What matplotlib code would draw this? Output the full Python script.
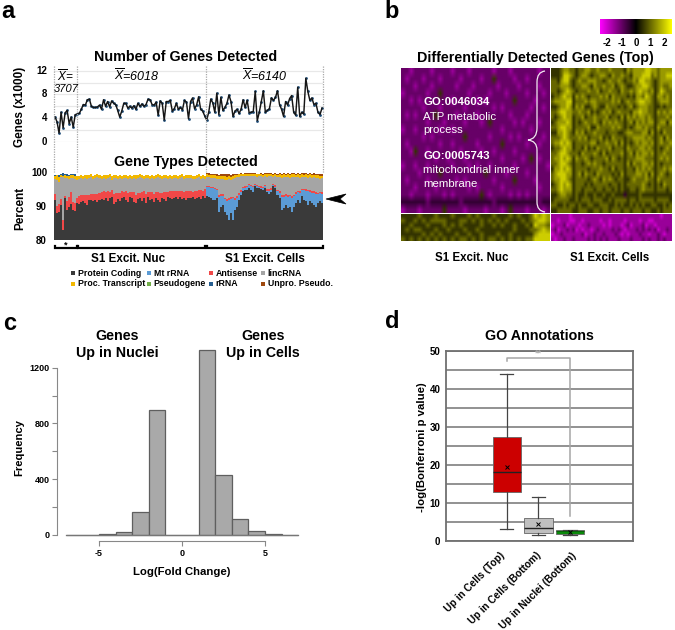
import numpy as np
import matplotlib
matplotlib.use("Agg")
import matplotlib.pyplot as plt
from matplotlib.colors import LinearSegmentedColormap
from matplotlib.patches import PathPatch, Polygon, Rectangle
from matplotlib.path import Path

plt.rcParams['font.family'] = ['Liberation Sans', 'DejaVu Sans']
plt.rcParams['mathtext.fontset'] = 'custom'
plt.rcParams['mathtext.it'] = 'Liberation Sans:italic'
plt.rcParams['mathtext.rm'] = 'Liberation Sans'

# ---------- panel a: genes detected (x1000) ----------
genes_first = [4.2, 3.4, 1.5, 5.0, 2.4, 4.9, 5.3, 3.1, 4.2, 2.5, 4.6]
genes_nuc = [4.7,4.8,5.5,6.3,6.2,7.1,7.2,6.0,5.8,5.8,
             5.9,6.2,5.5,7.1,6.0,6.8,5.9,6.9,6.5,6.3,
             5.3,4.2,5.2,6.5,6.5,5.7,6.0,5.7,6.1,5.5,
             6.5,6.0,6.4,6.0,6.3,7.2,7.1,6.3,6.2,6.7,
             4.5,6.9,6.5,3.7,6.8,6.8,7.0,5.2,5.6,6.5,
             5.5,5.8,5.4,7.0,6.7,3.9,6.8,7.4,5.6,6.2,
             7.6,5.5,5.2,4.4]
genes_cells = [3.7,5.0,7.2,6.6,5.0,8.2,4.6,7.5,5.3,5.8,
               6.5,7.9,6.8,4.3,5.2,5.5,4.8,5.5,7.1,5.8,
               7.0,4.9,5.0,5.1,8.5,3.6,5.0,6.8,8.6,5.0,
               5.3,5.6,7.4,7.0,7.5,8.6,6.3,5.5,4.3,6.8,
               6.2,7.3,7.8,5.0,4.5,9.2,4.3,5.0,4.7,10.7,
               8.5,7.0,7.4,6.3,6.5,5.0,4.6,5.7]

# ---------- panel a: gene types, percent ----------
protein_first = [91.8,88.0,88.5,90.3,83.0,92.6,89.0,89.8,90.6,89.0,88.8]
protein_nuc = [91.0,90.6,91.2,91.5,91.0,90.5,91.8,92.0,91.5,91.8,
               91.2,92.0,92.3,91.9,92.4,91.6,92.6,92.9,90.8,91.4,
               92.2,91.6,92.4,92.8,91.9,91.2,92.7,92.4,91.4,90.9,
               92.1,92.5,91.5,92.6,91.1,92.7,91.9,92.3,91.2,92.6,
               92.0,91.4,92.5,92.3,91.7,92.8,92.5,92.1,92.6,92.9,
               92.3,92.7,92.1,92.5,91.9,92.6,92.4,92.8,92.2,92.5,
               92.8,92.3,93.0,92.6]
protein_cells = [93.0,92.8,92.5,92.0,91.8,92.5,88.5,90.0,90.5,88.5,
                 87.5,86.0,88.0,86.0,89.0,90.0,92.0,93.5,94.5,95.0,
                 94.8,95.5,95.0,94.2,96.0,95.5,95.5,95.2,95.0,95.5,
                 94.2,93.8,94.2,96.0,95.5,93.5,92.5,89.0,89.5,90.5,
                 89.5,90.0,88.5,90.0,91.0,92.0,91.0,93.0,92.0,91.5,
                 90.5,91.5,91.0,90.5,90.0,91.0,91.5,91.0]
mt_cells = [2.8,2.9,3.0,3.4,3.3,2.4,4.3,3.2,2.6,3.6,
            4.2,6.0,4.2,6.4,2.9,2.4,1.5,0.8,0.9,0.6,
            0.9,0.8,1.0,1.6,0.4,0.6,0.4,0.4,0.5,0.5,
            0.5,0.9,0.8,0.5,0.4,1.0,1.5,3.8,3.4,2.6,
            3.2,3.0,4.0,3.0,2.8,2.2,3.0,1.8,2.8,3.2,
            4.0,2.8,3.0,3.4,3.6,2.6,2.4,2.6]
antisense_first = [1.8,2.2,2.3,1.8,3.0,0.4,2.7,3.0,3.6,2.4,2.2]
antisense_nuc = [1.6,2.4,2.2,1.8,2.4,2.9,1.6,1.7,2.3,1.9,
                 2.6,2.0,1.9,2.6,2.0,2.9,1.7,2.0,2.9,2.5,
                 1.7,2.5,2.2,1.6,2.6,2.9,1.7,2.0,2.8,2.6,
                 2.0,1.6,2.7,1.9,2.7,1.7,2.3,2.0,2.5,1.8,
                 2.2,2.7,1.6,2.0,2.5,1.5,2.0,2.4,1.9,1.8,
                 2.3,1.9,2.4,1.8,2.6,2.0,2.2,1.6,2.4,2.2,
                 2.0,2.6,1.7,2.5]
antisense_cells = [0.4,0.5,0.4,0.5,0.5,0.4,0.6,0.4,0.5,0.5,
                   0.6,0.5,0.6,0.5,0.6,0.6,0.6,0.5,0.4,0.5,
                   0.4,0.3,0.4,0.4,0.3,0.4,0.3,0.4,0.4,0.3,
                   0.5,0.4,0.4,0.3,0.4,0.5,0.5,0.6,0.6,0.5,
                   0.6,0.5,0.6,0.5,0.5,0.4,0.5,0.4,0.5,0.5,
                   0.5,0.5,0.5,0.6,0.6,0.5,0.5,0.6]
grey_top_first = [98.2,97.8,97.4,98.8,98.9,98.4,98.6,98.2,98.4,98.6,98.2]
grey_top_nuc = [98.0,98.3,98.5,98.1,98.6,98.2,98.4,98.7,98.2,98.5,
                98.8,98.5,98.3,98.6,98.2,98.5,98.7,98.0,98.4,98.6,
                98.3,98.5,98.2,98.6,98.4,98.1,98.5,98.3,98.6,98.2,
                98.5,98.7,98.4,98.2,98.6,98.5,98.3,98.6,98.2,98.4,
                98.7,98.4,98.2,98.5,98.6,98.3,98.5,98.1,98.4,98.6,
                98.3,98.5,98.7,98.2,98.4,98.6,98.5,98.3,98.1,98.4,
                98.7,98.2,98.5,98.3]
grey_top_cells = [98.9,98.7,98.5,98.6,98.4,98.3,98.1,98.3,98.2,98.0,
                  97.9,98.2,97.8,98.2,98.5,98.7,98.9,99.0,99.1,99.2,
                  99.0,99.1,99.2,99.0,99.1,98.9,99.1,99.0,98.8,99.0,
                  98.9,99.1,99.0,98.8,99.0,98.7,98.9,98.6,98.8,98.7,
                  98.9,98.6,98.8,98.9,98.7,98.9,98.6,98.8,98.7,98.9,
                  98.6,98.8,98.5,98.7,98.4,98.6,98.3,98.4]
proc_top_first = [99.0,99.3,98.8,99.5,99.2,99.4,99.0,99.2,99.3,99.4,99.2]
proc_top_nuc = [99.1,99.2,99.4,99.0,99.5,99.3,99.4,99.6,99.2,99.3,
                99.6,99.4,99.2,99.5,99.3,99.4,99.6,99.1,99.3,99.5,
                99.2,99.4,99.1,99.5,99.3,99.0,99.4,99.2,99.5,99.3,
                99.4,99.6,99.3,99.1,99.5,99.4,99.2,99.5,99.1,99.3,
                99.6,99.3,99.1,99.4,99.5,99.2,99.4,99.0,99.3,99.5,
                99.2,99.4,99.6,99.1,99.3,99.5,99.4,99.2,99.0,99.3,
                99.6,99.1,99.4,99.2]
proc_top_cells = [99.6,99.5,99.3,99.5,99.3,99.1,99.0,99.2,99.1,99.0,
                  98.9,99.2,98.9,99.2,99.4,99.5,99.6,99.7,99.7,99.8,
                  99.7,99.7,99.8,99.6,99.7,99.6,99.7,99.7,99.5,99.7,
                  99.6,99.7,99.7,99.5,99.7,99.5,99.6,99.4,99.6,99.5,
                  99.6,99.4,99.6,99.6,99.5,99.6,99.4,99.6,99.5,99.6,
                  99.4,99.6,99.3,99.5,99.3,99.4,99.2,99.2]
rrna_first = [0.3,0.2,0.6,0.3,0.7,0.3,0.6,0.3,0.4,0.2,0.4]
unpro_cells = [0.3,0.4,0.5,0.3,0.5,0.6,0.5,0.5,0.6,0.6,
               0.7,0.5,0.6,0.4,0.3,0.3,0.2,0.2,0.1,0.1,
               0.2,0.2,0.1,0.3,0.2,0.2,0.1,0.2,0.3,0.2,
               0.3,0.2,0.2,0.3,0.2,0.3,0.3,0.4,0.3,0.3,
               0.3,0.4,0.3,0.3,0.3,0.3,0.4,0.3,0.4,0.3,
               0.4,0.3,0.5,0.4,0.5,0.4,0.5,0.4]
type_names = ['Protein Coding', 'Mt rRNA', 'Antisense', 'lincRNA',
              'Proc. Transcript', 'Pseudogene', 'rRNA', 'Unpro. Pseudo.']
type_colors = ['#3a3a3a', '#5b9bd5', '#f04848', '#a5a5a5',
               '#f2b800', '#70ad47', '#255e91', '#9e480e']

# ---------- panel b: heatmap, digit d means z = -2.5 + 0.5 d ----------
hm_top_left = [
 "332333323333233323333323332333333233",
 "323332333233332333323363333233233333",
 "333233323333323332333332333323333233",
 "233333233633333323333233323333233323",
 "332323333333233333232333333633332333",
 "333332333233333233333323233333323323",
 "323233336333323333233333332333233333",
 "333333233323333233323633333232333233",
 "233233333233233333333333233333323333",
 "333332323333333633333233332323333323",
 "323333333233233333233333633333233233",
 "332633233333332333323323333233333333",
 "333333332332333233333333233332363233",
 "233233233333233323233233333233333332",
 "333323333633333333336333323333233333",
 "323333233333323233333323333633332333",
 "333233332333333323233333233333333233",
 "332333233323233333363233332323233333",
 "444444344444443444444434444444444344",
 "233323333363333233332333236333233323"]
hm_top_right = [
 "6667887767788778777877776878888998878888",
 "6667998767887677887687787768889997878899",
 "7768997678778887767877876778799887678888",
 "7778887677887687787786787667889987678778",
 "7767898767778778677877687787898878679877",
 "6778988687876777878687777676887987688787",
 "7888899677787887777787867877899887678887",
 "6678898687866787668777676786788877667677",
 "7789988778778676787867877768898877687878",
 "7678988677867787778677686878788787677787",
 "6788898676787787687878776786878788678868",
 "7789988677778668777787876767887877687777",
 "6688987687867787776777667887778868676877",
 "7778987778786777867687776778888787678687",
 "7889898677777886778778686767878878678778",
 "6778988677686768777867776877788787676787",
 "7789987776877787686777786786878878677877",
 "7889898687787677778687676777888777678787",
 "7789987677678787767777776868778878676777",
 "6889898677776777877686776776878787677878",
 "7899988678687768777767686777887868678767",
 "7889987677776787687876776678777877687777",
 "6789898677767677777677676777778767676877",
 "7789888677677767767767676677678777677767",
 "6678877676676676676676664666676666666666",
 "6777776676777677766767777677677777677776",
 "7766767767667766777667676676767667766767",
 "6677777667776677677677767767776776676777"]
hm_bottom_left = [
 "666676667666766676766676667676679898",
 "766767677776667767676767676667678998",
 "667666766676767666676676766766769887",
 "676776667667666766766666666766677898",
 "666667676766676676676667667666668999",
 "767676767676767767676776767676779999"]
hm_bottom_right = [
 "2222221222222222222222222222222222221222",
 "2212221122122222122122221222212211222222",
 "1222312221223222212122212312223122122222",
 "2312232312122123222232321222323232312232",
 "1223222222312232232223212122232212232122",
 "2122322322223232323222322232223232232322"]
cbar_ticks = [-2, -1, 0, 1, 2]

# ---------- panel c: histogram ----------
bin_edges = [-7, -6, -5, -4, -3, -2, -1, 0, 1, 2, 3, 4, 5, 6, 7]
freq = [1, 1, 4, 22, 165, 895, 0, 0, 1325, 430, 115, 28, 5, 1]

# ---------- panel d: boxes ----------
box_labels = ['Up in Cells (Top)', 'Up in Cells (Bottom)', 'Up in Nuclei (Bottom)']
box_whislo = [3.2, 1.5, 1.7]
box_q1 = [13.0, 2.2, 1.9]
box_med = [18.0, 3.3, 2.6]
box_q3 = [27.3, 6.0, 2.8]
box_whishi = [44.0, 11.6, 3.0]
box_mean = [19.5, 4.4, 2.4]
box_colors = ['#cc0000', '#bfbfbf', '#0a8a0a']

W, H = 675, 630
fig = plt.figure(figsize=(W/100, H/100), dpi=100)


def px_axes(l, t, r, b, **kw):
    return fig.add_axes([l/W, 1-b/H, (r-l)/W, (b-t)/H], **kw)


# overlay in pixel coordinates for annotations
ov = px_axes(0, 0, W, H, zorder=10)
ov.set_xlim(0, W)
ov.set_ylim(H, 0)
ov.axis('off')
ov.patch.set_alpha(0)


def T(x, y, s, size=8, weight='bold', ha='center', color='black', **kw):
    ov.text(x, y, s, fontsize=size, fontweight=weight, ha=ha, va='center', color=color, **kw)


TITLE = 10.3
for x, y, s in [(8, 11, 'a'), (392, 12, 'b'), (10, 323, 'c'), (392, 321, 'd')]:
    T(x, y, s, size=17)

# --- a top ---
genes = genes_first + genes_nuc + genes_cells
n = len(genes)
xs = np.arange(n)
ax = px_axes(54, 66, 323, 142)
ax.set_xlim(-0.5, n - 0.5)
ax.set_ylim(0, 76/5.95)
for s in ax.spines.values():
    s.set_visible(False)
ax.set_yticks([0, 2, 4, 6, 8, 10, 12])
ax.yaxis.grid(True, color='#e8e8e8', lw=0.9)
ax.set_axisbelow(True)
ax.tick_params(length=0, labelleft=False, labelbottom=False)
ax.set_xticks([])
ax.plot(xs, genes, color='none', marker='o', ms=2.0, mew=0, mfc='#1f4e79', clip_on=False, zorder=2)
ax.plot(xs, genes, color='#151515', lw=1.05, clip_on=False, zorder=3)
for y, v in zip([142, 118, 94, 70.5], ['0', '4', '8', '12']):
    T(47, y, v, size=7, ha='right')
T(20, 107, 'Genes (x1000)', size=8.5, rotation=90)
T(186, 57, 'Number of Genes Detected', size=TITLE)
T(65.5, 76, r'$\overline{X}$=', size=8.5, weight='normal', style='italic')
T(66, 88.5, '3707', size=8, weight='normal', style='italic')
T(137, 76, r'$\overline{X}$=6018', size=9, weight='normal', style='italic')
T(265, 76, r'$\overline{X}$=6140', size=9, weight='normal', style='italic')

# --- a bars ---
axb = px_axes(54, 171, 323, 240)
axb.set_xlim(-0.5, n - 0.5)
axb.set_ylim(80, 100 + 2/3.35)
axb.axis('off')
n_first, n_nuc, n_cells = len(genes_first), len(genes_nuc), len(genes_cells)
protein = np.array(protein_first + protein_nuc + protein_cells)
mt = np.array([0.0]*(n_first + n_nuc) + mt_cells)
anti = np.array(antisense_first + antisense_nuc + antisense_cells)
grey_top = np.array(grey_top_first + grey_top_nuc + grey_top_cells)
proc_top = np.array(proc_top_first + proc_top_nuc + proc_top_cells)
rrna = np.array(rrna_first + [0.05]*(n_nuc + n_cells))
unpro = np.array([0.0]*(n_first + n_nuc) + unpro_cells)
w = 1.0
kw = dict(antialiased=False, linewidth=0)
axb.bar(xs, protein-80, w, bottom=80, color=type_colors[0], **kw)
axb.bar(xs, mt, w, bottom=protein, color=type_colors[1], **kw)
axb.bar(xs, anti, w, bottom=protein+mt, color=type_colors[2], **kw)
axb.bar(xs, grey_top-(protein+mt+anti), w, bottom=protein+mt+anti, color=type_colors[3], **kw)
axb.bar(xs, proc_top-grey_top, w, bottom=grey_top, color=type_colors[4], **kw)
axb.bar(xs, rrna, w, bottom=proc_top, color=type_colors[6], **kw)
axb.bar(xs, unpro, w, bottom=proc_top, color=type_colors[7], **kw)
for y, v in zip([173, 206.7, 240.5], ['100', '90', '80']):
    T(47, y, v, size=7, ha='right')
T(20, 208, 'Percent', size=8.5, rotation=90)
T(186, 162, 'Gene Types Detected', size=TITLE)

# dotted separators through both a plots
for xp in [54, 77, 206, 323]:
    ov.plot([xp, xp], [66, 172], color='#a8a8a8', lw=0.9, ls=(0, (1, 1)))

# brackets
for x0, x1 in [(54.5, 76.5), (77.5, 205), (207, 323)]:
    ov.plot([x0, x0, x1, x1], [245.5, 248, 248, 245.5], color='black', lw=1.6, solid_joinstyle='miter')
T(66, 245, '*', size=6.5)
T(128, 259, 'S1 Excit. Nuc', size=8.4)
T(265, 259, 'S1 Excit. Cells', size=8.4)
ov.add_patch(Polygon([(326, 199), (346, 194), (340, 199), (346, 204)], fc='black', ec='black', lw=0.5))

# legend
leg_pos = [(73, 273), (149, 273), (211, 273), (263, 273),
           (73, 284), (149, 284), (211, 284), (263, 284)]
for (lx, ly), name, col in zip(leg_pos, type_names, type_colors):
    ov.add_patch(Rectangle((lx-2, ly-2), 4, 4, fc=col, ec='none'))
    T(lx+4.5, ly, name, size=6.3, ha='left')

# --- b heatmap ---
cmap = LinearSegmentedColormap.from_list('mby', ['#ff00ff', '#000000', '#ffff00'])


def to_z(rows):
    return np.array([[-2.5 + 0.5*int(c) for c in r] for r in rows])


for rows, (l, t, r, b) in [(hm_top_left, (401, 68, 550, 213)),
                           (hm_top_right, (551, 68, 672, 213)),
                           (hm_bottom_left, (401, 214, 550, 241)),
                           (hm_bottom_right, (551, 214, 672, 241))]:
    a = px_axes(l, t, r, b)
    a.imshow(to_z(rows), cmap=cmap, vmin=-2.5, vmax=2.5, aspect='auto',
             interpolation='bilinear', interpolation_stage='rgba')
    a.axis('off')

cb = px_axes(600, 19, 672, 34)
grad = np.linspace(-2.5, 2.5, 256).reshape(1, -1)
cb.imshow(grad, cmap=cmap, vmin=-2.5, vmax=2.5, aspect='auto', extent=[-2.5, 2.5, 0, 1])
cb.set_yticks([])
cb.set_xticks(cbar_ticks)
cb.set_xticklabels(['-2', '-1', '0', '1', '2'], fontsize=7, fontweight='bold')
cb.tick_params(axis='x', length=0, pad=3)
for s in cb.spines.values():
    s.set_visible(False)

T(535, 58, 'Differentially Detected Genes (Top)', size=TITLE)
T(472, 258, 'S1 Excit. Nuc', size=8.3)
T(610, 258, 'S1 Excit. Cells', size=8.3)
for y, s, wgt in [(102, 'GO:0046034', 'bold'), (116.7, 'ATP metabolic', 'normal'),
                  (130, 'process', 'normal'), (155.7, 'GO:0005743', 'bold'),
                  (170, 'mitochondrial inner', 'normal'), (184, 'membrane', 'normal')]:
    T(423, y, s, size=8.2, weight=wgt, ha='left', color='white')
brace = Path([(545, 71), (537, 72), (537, 82), (537, 128),
              (537, 139), (528, 140), (537, 141), (537, 150),
              (537, 202), (537, 211), (545, 212)],
             [Path.MOVETO, Path.CURVE3, Path.CURVE3, Path.LINETO,
              Path.CURVE3, Path.CURVE3, Path.CURVE3, Path.CURVE3,
              Path.LINETO, Path.CURVE3, Path.CURVE3])
ov.add_patch(PathPatch(brace, fc='none', ec='#f0e8f0', lw=0.9))

# --- c histogram ---
axc = px_axes(57, 350, 300, 534.7)
axc.set_xlim((57-182)/16.6, (300-182)/16.6)
axc.set_ylim(0, 184.7/0.1392)
axc.bar(bin_edges[:-1], freq, width=1, align='edge', color='#a9a9a9', edgecolor='#5f5f5f', lw=0.9, clip_on=False)
axc.plot([-7, 7], [0, 0], color='#777777', lw=0.9, clip_on=False)
for s in ['top', 'right']:
    axc.spines[s].set_visible(False)
axc.spines['left'].set_bounds(0, 1200)
axc.spines['left'].set_color('#888888')
axc.spines['bottom'].set_position(('outward', 4.6))
axc.spines['bottom'].set_bounds(-5, 5)
axc.spines['bottom'].set_color('#888888')
axc.set_xticks([-5, 0, 5])
axc.set_yticks([0, 200, 400, 600, 800, 1000, 1200])
axc.set_yticklabels(['0', '', '400', '', '800', '', '1200'], fontsize=6.5, fontweight='bold')
axc.set_xticklabels(['-5', '0', '5'], fontsize=6.5, fontweight='bold')
axc.tick_params(color='#888888', length=3.5, width=0.8, pad=2)
T(19, 448, 'Frequency', size=8.1, rotation=90)
T(182, 572, 'Log(Fold Change)', size=8.2)
T(117, 336, 'Genes', size=TITLE)
T(117, 353, 'Up in Nuclei', size=TITLE)
T(263, 336, 'Genes', size=TITLE)
T(263, 353, 'Up in Cells', size=TITLE)

# --- d boxes ---
axd = px_axes(446, 350.7, 633, 541)
axd.set_xlim(-0.93, 5.0)
axd.set_ylim(0, 50)
stats = [dict(label=l, whislo=a, q1=b, med=c, q3=d, whishi=e, mean=f, fliers=[])
         for l, a, b, c, d, e, f in zip(box_labels, box_whislo, box_q1, box_med, box_q3, box_whishi, box_mean)]
bp = axd.bxp(stats, positions=[1, 2, 3], widths=0.9, patch_artist=True, showmeans=True,
             capwidths=0.42, showfliers=False,
             whiskerprops=dict(color='#444444', lw=0.9), capprops=dict(color='#444444', lw=0.9),
             medianprops=dict(color='#222222', lw=1.0),
             boxprops=dict(edgecolor='#666666', lw=0.6),
             meanprops=dict(marker='x', ms=2.8, mec='black', mew=0.7))
for patch, col in zip(bp['boxes'], box_colors):
    patch.set_facecolor(col)
bp['medians'][2].set_linewidth(0.6)
bp['medians'][2].set_color('#0a5a0a')
axd.set_yticks(np.arange(0, 51, 5), minor=False)
axd.set_yticklabels(['0', '', '10', '', '20', '', '30', '', '40', '', '50'], fontsize=7, fontweight='bold')
axd.yaxis.grid(True, color='#7f7f7f', lw=1.2)
axd.set_axisbelow(True)
axd.tick_params(axis='y', length=0, pad=4)
axd.set_xticks([1, 2, 3])
axd.set_xticklabels([])
axd.tick_params(axis='x', length=0)
for (ex, ey), s in zip([(503, 554), (539, 554), (575, 554)], box_labels):
    T(ex, ey, s, size=7.3, ha='right', rotation=45, rotation_mode='anchor')
for s in axd.spines.values():
    s.set_color('#707070')
    s.set_linewidth(1.3)
axd.plot([1, 1, 3, 3], [47.3, 48.1, 48.1, 6.5], color='#a6a6a6', lw=1.1, clip_on=False)
axd.text(2, 49.4, '**', color='#a6a6a6', fontsize=6.5, fontweight='bold', ha='center', va='center')
T(422, 447, '-log(Bonferroni p value)', size=8.2, rotation=90)
T(539, 336, 'GO Annotations', size=TITLE)

fig.savefig('out.png', dpi=100)
